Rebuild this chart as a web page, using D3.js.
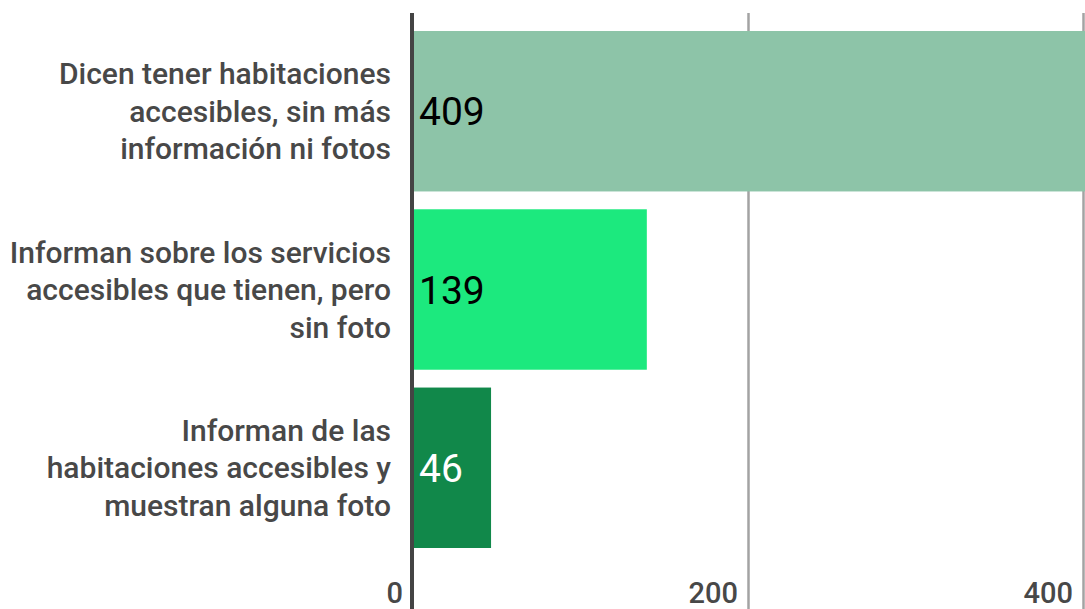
<!DOCTYPE html>
<html>
<head>
<meta charset="utf-8">
<script src="https://cdn.jsdelivr.net/npm/d3@7"></script>
<style>
  html, body { margin: 0; padding: 0; background: #fff; }
  svg { display: block; font-family: Roboto, "Noto Sans", sans-serif; }
</style>
</head>
<body>
<div id="chart"></div>
<script>
// data
const categories = [
  ["Dicen tener habitaciones", "accesibles, sin más", "información ni fotos"],
  ["Informan sobre los servicios", "accesibles que tienen, pero", "sin foto"],
  ["Informan de las", "habitaciones accesibles y", "muestran alguna foto"]
];
const values = [409, 139, 46];
const barColors = ["#8dc4a8", "#1ce97e", "#11884a"];
const valueColors = ["#000000", "#000000", "#ffffff"];
const xTicks = [0, 200, 400];

const width = 1085, height = 609;
const keys = categories.map((c, i) => i);

const svg = d3.select("#chart").append("svg")
  .attr("width", width).attr("height", height);

const x = d3.scaleLinear().domain([0, 400]).range([414, 1084]);
const y = d3.scaleBand().domain(keys).range([31, 548]).paddingInner(0.1).paddingOuter(0);

// grid
svg.append("g").selectAll("line")
  .data(xTicks.filter(d => d > 0))
  .join("line")
  .attr("x1", d => x(d) - 0.5).attr("x2", d => x(d) - 0.5)
  .attr("y1", 13).attr("y2", height)
  .attr("stroke", "#a3a3a3").attr("stroke-width", 2.5);

// tick labels
svg.append("g").selectAll("text")
  .data(xTicks)
  .join("text")
  .attr("x", d => x(d) - 11)
  .attr("y", 603)
  .attr("text-anchor", "end")
  .attr("font-size", 29)
  .attr("font-weight", 500)
  .attr("fill", "#484848")
  .text(d => d);

// bars
svg.append("g").selectAll("rect")
  .data(keys)
  .join("rect")
  .attr("x", x(0))
  .attr("y", d => y(d))
  .attr("width", d => x(values[d]) - x(0))
  .attr("height", y.bandwidth())
  .attr("fill", d => barColors[d]);

// zero axis
svg.append("line")
  .attr("x1", x(0) - 2).attr("x2", x(0) - 2)
  .attr("y1", 13).attr("y2", height)
  .attr("stroke", "#444").attr("stroke-width", 4);

// value labels
svg.append("g").selectAll("text")
  .data(keys)
  .join("text")
  .attr("x", x(0) + 5)
  .attr("y", d => y(d) + y.bandwidth() / 2)
  .attr("dy", "0.36em")
  .attr("font-size", 39)
  .attr("fill", d => valueColors[d])
  .text(d => values[d]);

// category labels
const lineH = 37.5;
svg.append("g").selectAll("text")
  .data(keys)
  .join("text")
  .attr("text-anchor", "end")
  .attr("font-size", 30)
  .attr("font-weight", 500)
  .attr("fill", "#484848")
  .each(function(d) {
    const lines = categories[d];
    const cy = y(d) + y.bandwidth() / 2;
    const t = d3.select(this);
    lines.forEach((ln, i) => {
      t.append("tspan")
        .attr("x", 391)
        .attr("y", cy + (i - (lines.length - 1) / 2) * lineH)
        .attr("dy", "0.35em")
        .text(ln);
    });
  });
</script>
</body>
</html>
